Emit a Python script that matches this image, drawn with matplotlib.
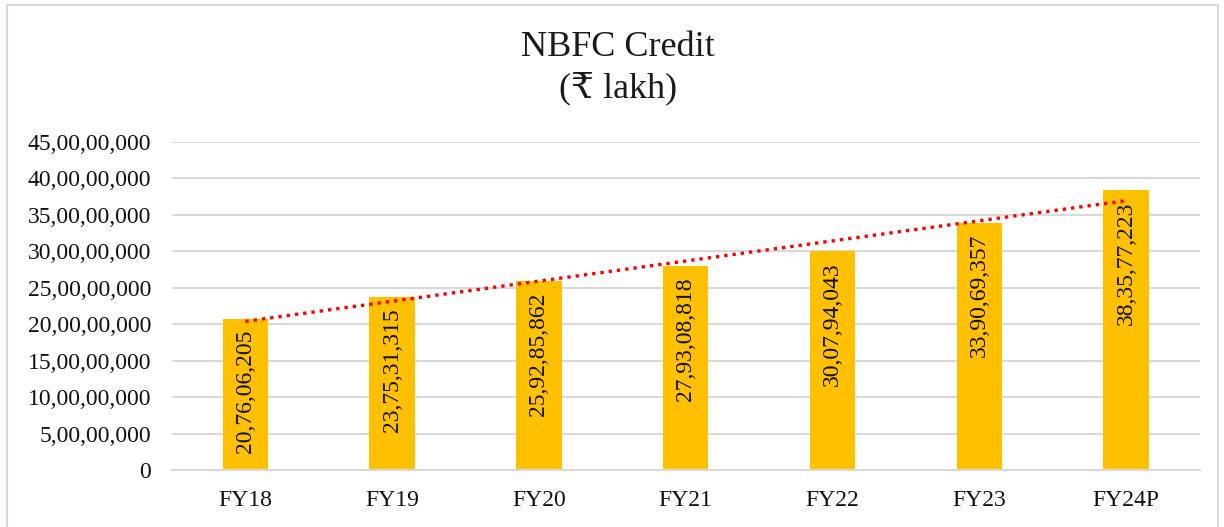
import numpy as np
import matplotlib
matplotlib.use("Agg")
import matplotlib.pyplot as plt
from matplotlib.patches import Rectangle

years = ["FY18", "FY19", "FY20", "FY21", "FY22", "FY23", "FY24P"]
credit = [207606205, 237531315, 259285862, 279308818, 300794043, 339069357, 383577223]
y_ticks = [0, 50000000, 100000000, 150000000, 200000000, 250000000,
           300000000, 350000000, 400000000, 450000000]

plt.rcParams['font.family'] = ['Liberation Serif', 'DejaVu Serif', 'DejaVu Sans']


def indian_fmt(n):
    s = str(int(n))
    if len(s) <= 3:
        return s
    last3 = s[-3:]
    rest = s[:-3]
    parts = []
    while len(rest) > 2:
        parts.insert(0, rest[-2:])
        rest = rest[:-2]
    if rest:
        parts.insert(0, rest)
    return ",".join(parts) + "," + last3


fig = plt.figure(figsize=(12.24, 5.27), dpi=100)
ax = fig.add_axes([0.1405, 0.108, 0.8395, 0.6226])

x = np.arange(len(years))
bars = ax.bar(x, credit, width=0.31, color='#FFC000', zorder=2)

# linear trendline
coef = np.polyfit(x, credit, 1)
ax.plot(x, np.polyval(coef, x), color='#FF0000', linestyle=(0, (1, 1.5)),
        linewidth=2.4, zorder=3)

for xi, v in zip(x, credit):
    ax.annotate(indian_fmt(v), (xi, v), xytext=(0, -8), textcoords='offset points',
                rotation=90, ha='center', va='top', fontsize=17, color='#111111', zorder=4)

ax.set_xlim(-0.5, len(years) - 0.5)
ax.set_ylim(0, 450000000)
ax.set_yticks(y_ticks)
ax.set_yticklabels([indian_fmt(t) for t in y_ticks])
ax.set_xticks(x)
ax.set_xticklabels(years)
ax.tick_params(axis='both', length=0, labelsize=17, labelcolor='#111111')
ax.tick_params(axis='y', pad=15)
ax.tick_params(axis='x', pad=14)
ax.grid(axis='y', color='#d9d9d9', linewidth=1.5, zorder=0)
for side in ['top', 'right', 'left']:
    ax.spines[side].set_visible(False)
ax.spines['bottom'].set_color('#d9d9d9')
ax.spines['bottom'].set_linewidth(1.5)

fig.text(0.505, 0.91, "NBFC Credit", ha='center', va='center', fontsize=26, color='#1a1a1a')
fig.text(0.505, 0.832, "(₹ lakh)", ha='center', va='center', fontsize=26, color='#1a1a1a')

fig.patches.append(Rectangle((0.006, -0.01), 0.989, 1.0, transform=fig.transFigure,
                             fill=False, edgecolor='#d9d9d9', linewidth=1.5))

fig.savefig("out.png", dpi=100)
